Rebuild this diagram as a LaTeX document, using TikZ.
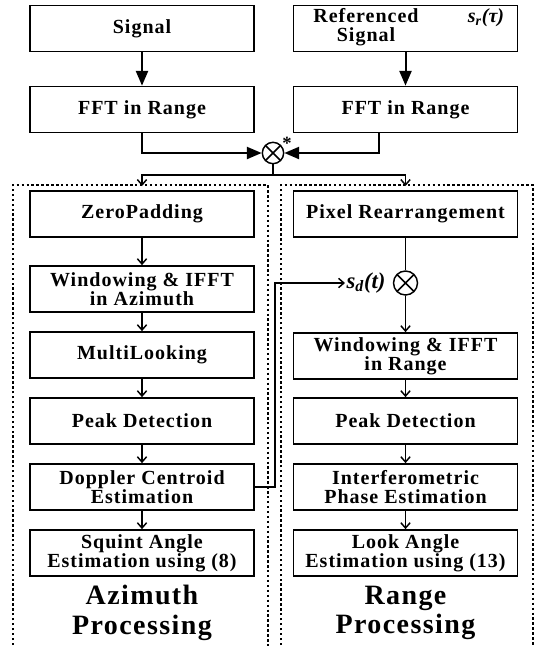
\documentclass[tikz,border=0pt]{standalone}
\usepackage{fontspec}
\setmainfont{Liberation Serif}
\newfontfamily\boxfont{Liberation Serif}[LetterSpace=5]
\usetikzlibrary{arrows.meta,positioning}
\tikzset{>=latex}
\tikzset{
  block/.style={draw,line width=1.3pt,minimum width=168pt,minimum height=34.5pt,
    inner sep=1pt,align=center,font=\boxfont\bfseries\fontsize{15}{14}\selectfont},
  mult/.style={draw,circle,line width=1.1pt,inner sep=0pt,minimum size=16pt,
    path picture={\draw[line width=1.1pt]
      (path picture bounding box.north west) -- (path picture bounding box.south east)
      (path picture bounding box.north east) -- (path picture bounding box.south west);}},
  bigarr/.style={line width=1.5pt,-{Triangle[length=11pt,width=9pt]}},
  flow/.style={line width=1.1pt,-{Straight Barb[length=4pt,width=7pt]}},
  wire/.style={line width=1.1pt},
  frame/.style={line width=2pt,dash pattern=on 1.8pt off 1.9pt},
  title/.style={align=center,font=\boxfont\bfseries\fontsize{21}{22}\selectfont},
  sym/.style={inner sep=1pt,font=\bfseries\itshape\fontsize{15}{15}\selectfont},
}

\begin{document}
\begin{tikzpicture}[x=0.75pt,y=-0.75pt]
  \useasboundingbox (0,0) rectangle (536,646);
  \def\xa{142}
  \def\xr{405.5}

  % INPUT
  \node[block] (sig)  at (\xa,28.5) {Signal};
  \node[block] (ref)  at (\xr,28.5) {};
  \node[block,draw=none] (reft) at (366,27) {Referenced\\Signal};
  \node[sym] (sr) at (486,18) {s\textsubscript{r}(τ)};
  \node[block] (fft1) at (\xa,109.5) {FFT in Range};
  \node[block] (fft2) at (\xr,109.5) {FFT in Range};
  \node[mult] (mul) at (273,153) {};
  \node[font=\bfseries\fontsize{14}{14}\selectfont,inner sep=0pt] (ast) at (287,143) {*};

  \coordinate (spl)  at (273,175);
  \coordinate (azin) at (\xa,186);
  \coordinate (rgin) at (\xr,186);

  % FRAMES
  \draw[frame] (13,650) -- (13,185) -- (268,185) -- (268,650);
  \draw[frame] (281,650) -- (281,185) -- (533,185) -- (533,650);

  % AZIMUTH
  \node[block] (zp)  at (\xa,214) {ZeroPadding};
  \node[block] (win) at (\xa,289) {Windowing \& IFFT\\in Azimuth};
  \node[block] (ml)  at (\xa,355) {MultiLooking};
  \node[block] (pk)  at (\xa,421) {Peak Detection};
  \node[block] (dop) at (\xa,487) {Doppler Centroid\\Estimation};
  \node[block] (sq)  at (\xa,553) {Squint Angle\\Estimation using (8)};
  \node[title] (azt) at (\xa,613) {Azimuth\\Processing};

  % RANGE
  \node[block] (pix)  at (\xr,214) {Pixel Rearrangement};
  \node[mult,minimum size=18pt] (mul2) at (\xr,283) {};
  \node[sym,font=\bfseries\itshape\fontsize{17}{17}\selectfont] (sd) at (366,283) {s\textsubscript{d}(t)};
  \node[block] (winr) at (\xr,356) {Windowing \& IFFT\\in Range};
  \node[block] (pkr)  at (\xr,421) {Peak Detection};
  \node[block] (ifp)  at (\xr,487) {Interferometric\\Phase Estimation};
  \node[block] (look) at (\xr,553) {Look Angle\\Estimation using (13)};
  \node[title] (rgt)  at (\xr,613) {Range\\Processing};

  \coordinate (fb) at (275,487);

  % PATHS
  \draw[bigarr] (sig) -- (fft1);
  \draw[bigarr] (ref) -- (fft2);
  \draw[bigarr] (fft1.south) |- (mul.west);
  \draw[bigarr] ([xshift=-20pt]fft2.south) |- (mul.east);
  \draw[wire] (mul.south) -- (spl);
  \draw[flow] (spl) -| (azin);
  \draw[flow] (spl) -| (rgin);

  \draw[flow] (zp)  -- (win);
  \draw[flow] (win) -- (ml);
  \draw[flow] (ml)  -- (pk);
  \draw[flow] (pk)  -- (dop);
  \draw[flow] (dop) -- (sq);

  \draw[wire] (pix) -- (mul2);
  \draw[flow] (mul2) -- (winr);
  \draw[flow] (winr) -- (pkr);
  \draw[flow] (pkr)  -- (ifp);
  \draw[flow] (ifp)  -- (look);

  \draw[flow] (dop.east) -- (fb) |- (sd.west);

\end{tikzpicture}
\end{document}
